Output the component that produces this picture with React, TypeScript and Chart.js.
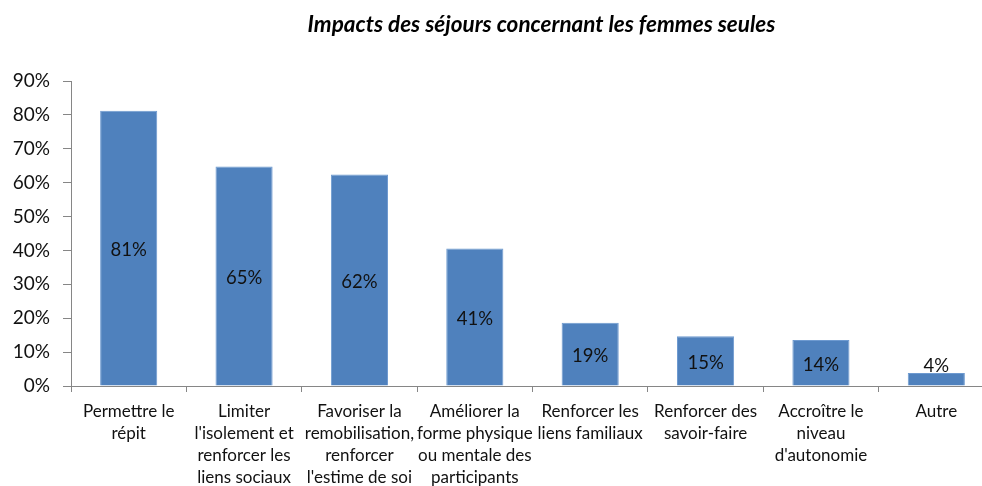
import React, { useEffect, useRef } from "react";
import { Chart, registerables } from "chart.js";

Chart.register(...registerables);

const title = "Impacts des séjours concernant les femmes seules";

const categories: string[][] = [
  ["Permettre le", "répit"],
  ["Limiter", "l'isolement et", "renforcer les", "liens sociaux"],
  ["Favoriser la", "remobilisation,", "renforcer", "l'estime de soi"],
  ["Améliorer la", "forme physique", "ou mentale des", "participants"],
  ["Renforcer les", "liens familiaux"],
  ["Renforcer des", "savoir-faire"],
  ["Accroître le", "niveau", "d'autonomie"],
  ["Autre"],
];

const values: number[] = [81.2, 64.8, 62.4, 40.6, 18.7, 14.7, 13.6, 3.8];

const yMax = 90;
const yStep = 10;

const W = 994;
const H = 486;
const FONT = "Lato, 'Open Sans', sans-serif";
const AXIS = "#868686";
const TEXT = "#111";

const titlePlugin = {
  id: "customTitle",
  afterDraw(chart: any) {
    const { ctx, chartArea } = chart;
    ctx.save();
    ctx.font = `italic bold 22.5px ${FONT}`;
    ctx.fillStyle = "#000";
    ctx.textAlign = "center";
    ctx.textBaseline = "middle";
    ctx.fillText(title, (chartArea.left + chartArea.right) / 2 + 9, 25);
    ctx.restore();
  },
};

const labelPlugin = {
  id: "barLabels",
  afterDatasetsDraw(chart: any) {
    const { ctx } = chart;
    const meta = chart.getDatasetMeta(0);
    ctx.save();
    ctx.font = `18.5px ${FONT}`;
    ctx.fillStyle = TEXT;
    ctx.textAlign = "center";
    ctx.textBaseline = "middle";
    meta.data.forEach((bar: any, i: number) => {
      const text = Math.round(values[i]) + "%";
      const h = bar.base - bar.y;
      const y = h < 24 ? bar.y - 7 : (bar.y + bar.base) / 2 + 2;
      ctx.fillText(text, bar.x, y);
    });
    ctx.restore();
  },
};

export default function App() {
  const ref = useRef<HTMLCanvasElement | null>(null);

  useEffect(() => {
    document.documentElement.style.overflow = "hidden";
    document.body.style.overflow = "hidden";
    if (!ref.current) return;
    const chart = new Chart(ref.current, {
      type: "bar",
      data: {
        labels: categories,
        datasets: [
          {
            data: values,
            backgroundColor: "#4f81bd",
            borderColor: "#6e9ad0",
            borderWidth: 1,
            categoryPercentage: 1,
            barPercentage: 0.495,
          },
        ],
      },
      options: {
        responsive: false,
        animation: false,
        layout: { padding: { top: 81, left: 0, right: 0, bottom: 0 } },
        plugins: {
          legend: { display: false },
          title: { display: false },
          tooltip: { enabled: false },
        },
        scales: {
          x: {
            afterFit: (s: any) => {
              s.height = 100;
            },
            grid: {
              display: true,
              drawOnChartArea: false,
              drawTicks: true,
              tickLength: 6,
              color: AXIS,
              offset: true,
            },
            border: { display: true, color: AXIS },
            ticks: {
              autoSkip: false,
              maxRotation: 0,
              minRotation: 0,
              padding: 9,
              color: TEXT,
              font: { family: FONT, size: 17, lineHeight: 22 / 17 },
            },
          },
          y: {
            min: 0,
            max: yMax,
            afterFit: (s: any) => {
              s.width = 71;
            },
            grid: {
              display: true,
              drawOnChartArea: false,
              drawTicks: true,
              tickLength: 8,
              color: AXIS,
            },
            border: { display: true, color: AXIS },
            ticks: {
              stepSize: yStep,
              padding: 13,
              color: TEXT,
              font: { family: FONT, size: 19 },
              callback: (v: any) => v + "%",
            },
          },
        },
      },
      plugins: [titlePlugin, labelPlugin],
    });
    return () => chart.destroy();
  }, []);

  return (
    <div style={{ position: "absolute", left: 0, top: 0, width: W, height: H, background: "#fff" }}>
      <canvas ref={ref} width={W} height={H} style={{ width: W, height: H, display: "block" }} />
    </div>
  );
}
